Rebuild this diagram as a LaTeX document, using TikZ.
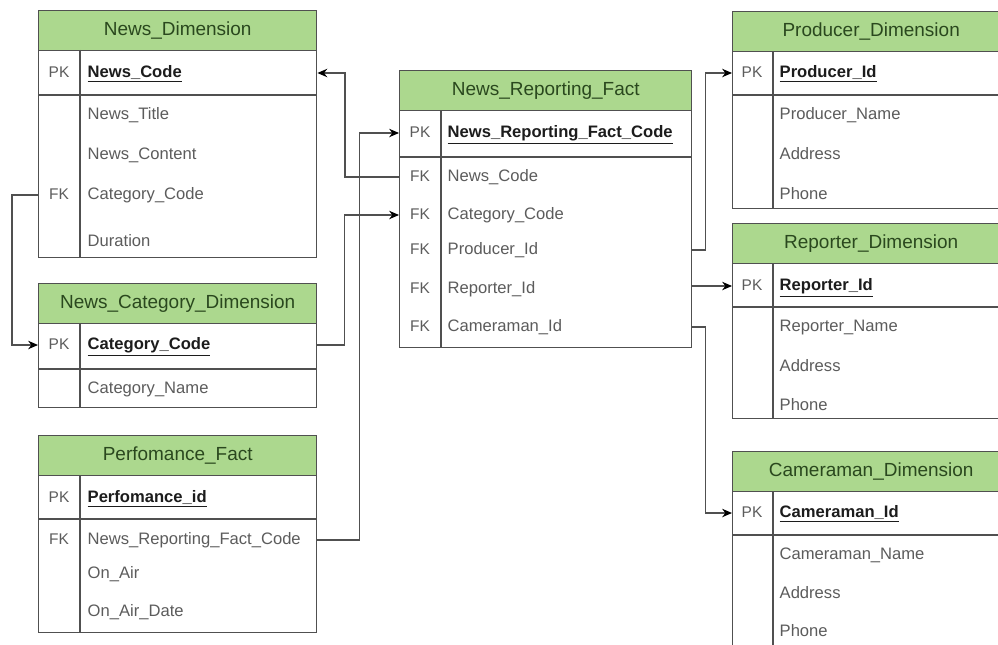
\documentclass[tikz,border=0pt]{standalone}
\usepackage{fontspec}
\setmainfont{Liberation Sans}
\usetikzlibrary{arrows.meta}
\definecolor{line gray}{RGB}{80,80,80}
\definecolor{head green}{RGB}{172,216,142}
\definecolor{head ink}{RGB}{42,72,30}
\definecolor{field gray}{RGB}{92,92,92}
\definecolor{pk ink}{RGB}{28,28,28}
\tikzset{
  entity/.style 2 args={draw=line gray, fill=white, line width=1pt, anchor=north west, inner sep=0pt,
    minimum width=#1*0.025cm, minimum height=#2*0.025cm},
  entity head/.style={draw=line gray, fill=head green, line width=1pt, anchor=north west, inner sep=0pt,
    minimum width=#1*0.025cm, minimum height=40*0.025cm, text=head ink, font=\fontsize{13.5}{15}\selectfont},
  table line/.style={draw=line gray, line width=1pt},
  key text/.style={text=field gray, font=\fontsize{11}{13}\selectfont, inner sep=1pt, text height=1.6ex, text depth=0.4ex},
  pk field/.style={anchor=west, inner sep=1pt, text=pk ink, font=\bfseries\fontsize{11.8}{14}\selectfont, text height=1.6ex, text depth=0.4ex},
  field/.style={anchor=west, inner sep=1pt, text=field gray, font=\fontsize{11.8}{14}\selectfont, text height=1.6ex, text depth=0.4ex},
  link/.style={draw=line gray, line width=1pt},
  >={Stealth[length=7pt, width=6pt, color=black]},
}

\begin{document}
\begin{tikzpicture}[x=0.025cm, y=-0.025cm]
  \clip (0,0) rectangle (998,644);
  \fill[white] (0,0) rectangle (998,644);

  % News_Dimension
  \node[entity={278}{247}] (nd) at (38,10) {};
  \node[entity head=278] (nd-head) at (38,10) {News\_Dimension};
  \draw[table line] (38,95) -- (316,95) (80,50) -- (80,257);
  \node[key text] (nd-pk) at (59,73) {PK};
  \node[pk field] (nd-code) at (86,73) {\underline{News\_Code}};
  \node[field] (nd-title) at (86,115) {News\_Title};
  \node[field] (nd-content) at (86,155) {News\_Content};
  \node[key text] (nd-fk) at (59,195) {FK};
  \node[field] (nd-cat) at (86,195) {Category\_Code};
  \node[field] (nd-dur) at (86,242) {Duration};

  % News_Category_Dimension
  \node[entity={278}{124}] (ncd) at (38,283) {};
  \node[entity head=278] (ncd-head) at (38,283) {News\_Category\_Dimension};
  \draw[table line] (38,369) -- (316,369) (80,323) -- (80,407);
  \node[key text] (ncd-pk) at (59,345) {PK};
  \node[pk field] (ncd-code) at (86,345) {\underline{Category\_Code}};
  \node[field] (ncd-name) at (86,389) {Category\_Name};

  % Perfomance_Fact
  \node[entity={278}{197}] (pf) at (38,435) {};
  \node[entity head=278] (pf-head) at (38,435) {Perfomance\_Fact};
  \draw[table line] (38,519) -- (316,519) (80,475) -- (80,632);
  \node[key text] (pf-pk) at (59,498) {PK};
  \node[pk field] (pf-id) at (86,498) {\underline{Perfomance\_id}};
  \node[key text] (pf-fk) at (59,540) {FK};
  \node[field] (pf-nrf) at (86,540) {News\_Reporting\_Fact\_Code};
  \node[field] (pf-air) at (86,574) {On\_Air};
  \node[field] (pf-date) at (86,612) {On\_Air\_Date};

  % News_Reporting_Fact
  \node[entity={292}{277}] (nrf) at (399,70) {};
  \node[entity head=292] (nrf-head) at (399,70) {News\_Reporting\_Fact};
  \draw[table line] (399,157) -- (691,157) (441,111) -- (441,347);
  \node[key text] (nrf-pk) at (420,133) {PK};
  \node[pk field] (nrf-code) at (446,133) {\underline{News\_Reporting\_Fact\_Code}};
  \node[key text] (nrf-fk1) at (420,177) {FK};
  \node[field] (nrf-news) at (446,177) {News\_Code};
  \node[key text] (nrf-fk2) at (420,215) {FK};
  \node[field] (nrf-cat) at (446,215) {Category\_Code};
  \node[key text] (nrf-fk3) at (420,250) {FK};
  \node[field] (nrf-prod) at (446,250) {Producer\_Id};
  \node[key text] (nrf-fk4) at (420,289) {FK};
  \node[field] (nrf-rep) at (446,289) {Reporter\_Id};
  \node[key text] (nrf-fk5) at (420,327) {FK};
  \node[field] (nrf-cam) at (446,327) {Cameraman\_Id};

  % Producer_Dimension
  \node[entity={277}{197}] (prd) at (732,11) {};
  \node[entity head=277] (prd-head) at (732,11) {Producer\_Dimension};
  \draw[table line] (732,95) -- (1009,95) (773,51) -- (773,208);
  \node[key text] (prd-pk) at (752,73) {PK};
  \node[pk field] (prd-id) at (778,73) {\underline{Producer\_Id}};
  \node[field] (prd-name) at (778,115) {Producer\_Name};
  \node[field] (prd-addr) at (778,155) {Address};
  \node[field] (prd-phone) at (778,195) {Phone};

  % Reporter_Dimension
  \node[entity={277}{195}] (rpd) at (732,223) {};
  \node[entity head=277] (rpd-head) at (732,223) {Reporter\_Dimension};
  \draw[table line] (732,307) -- (1009,307) (773,263) -- (773,418);
  \node[key text] (rpd-pk) at (752,286) {PK};
  \node[pk field] (rpd-id) at (778,286) {\underline{Reporter\_Id}};
  \node[field] (rpd-name) at (778,327) {Reporter\_Name};
  \node[field] (rpd-addr) at (778,367) {Address};
  \node[field] (rpd-phone) at (778,406) {Phone};

  % Cameraman_Dimension
  \node[entity={277}{210}] (cmd) at (732,451) {};
  \node[entity head=277] (cmd-head) at (732,451) {Cameraman\_Dimension};
  \draw[table line] (732,535) -- (1009,535) (773,491) -- (773,661);
  \node[key text] (cmd-pk) at (752,513) {PK};
  \node[pk field] (cmd-id) at (778,513) {\underline{Cameraman\_Id}};
  \node[field] (cmd-name) at (778,555) {Cameraman\_Name};
  \node[field] (cmd-addr) at (778,594) {Address};
  \node[field] (cmd-phone) at (778,632) {Phone};

  % links
  \draw[link, ->] (nrf.west |- nrf-news) -- ++(-54,0) |- (nd.east |- nd-code);
  \draw[link, ->] (nd.west |- nd-cat) -- ++(-26,0) |- (ncd.west |- ncd-code);
  \draw[link, ->] (ncd.east |- ncd-code) -- ++(27,0) |- (nrf.west |- nrf-cat);
  \draw[link, ->] (pf.east |- pf-nrf) -- ++(42,0) |- (nrf.west |- nrf-code);
  \draw[link, ->] (nrf.east |- nrf-prod) -- ++(13,0) |- (prd.west |- prd-id);
  \draw[link, ->] (nrf.east |- rpd-id) -- (rpd.west |- rpd-id);
  \draw[link, ->] (nrf.east |- nrf-cam) -- ++(13,0) |- (cmd.west |- cmd-id);
\end{tikzpicture}
\end{document}
